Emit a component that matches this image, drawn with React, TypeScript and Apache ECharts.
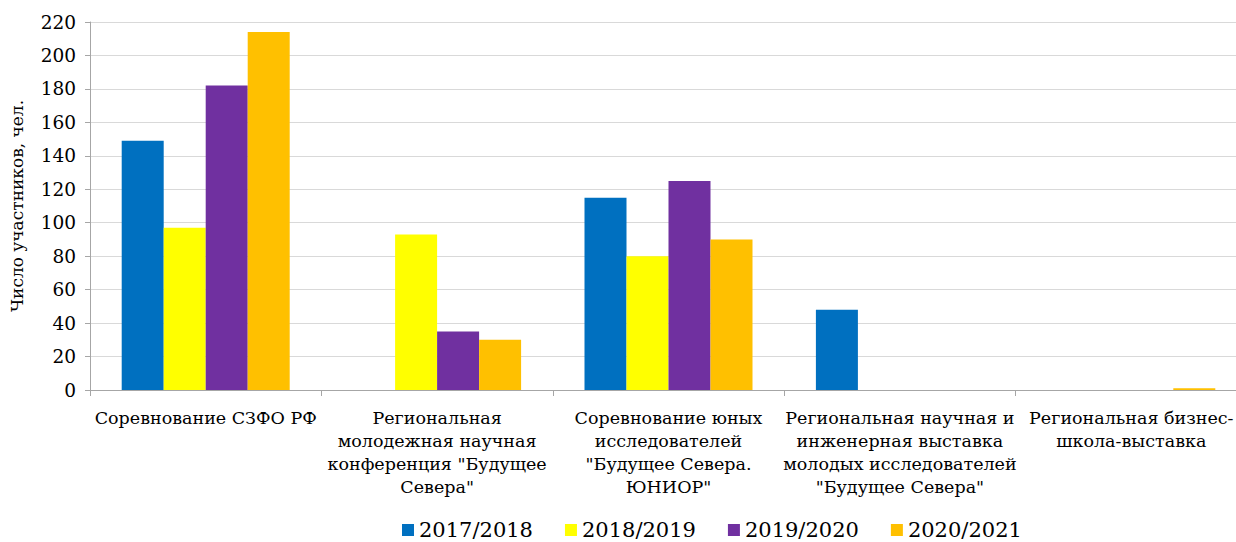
import React, { useEffect, useRef } from "react";
import * as echarts from "echarts";

const categories = [
  "Соревнование СЗФО РФ",
  "Региональная\nмолодежная научная\nконференция \"Будущее\nСевера\"",
  "Соревнование юных\nисследователей\n\"Будущее Севера.\nЮНИОР\"",
  "Региональная научная и\nинженерная выставка\nмолодых исследователей\n\"Будущее Севера\"",
  "Региональная бизнес-\nшкола-выставка",
];
const seriesNames = ["2017/2018", "2018/2019", "2019/2020", "2020/2021"];
const s2017 = [149, 0, 115, 48, 0];
const s2018 = [97, 93, 80, 0, 0];
const s2019 = [182, 35, 125, 0, 0];
const s2020 = [214, 30, 90, 0, 1];
const colors = ["#0070C0", "#FFFF00", "#7030A0", "#FFC000"];
const yTicks = { min: 0, max: 220, interval: 20 };

export default function App() {
  const ref = useRef<HTMLDivElement>(null);
  useEffect(() => {
    if (!ref.current) return;
    const chart = echarts.init(ref.current, null, { renderer: "svg" });
    const font = "DejaVu Serif";
    const data = [s2017, s2018, s2019, s2020];
    chart.setOption({
      animation: false,
      textStyle: { fontFamily: font },
      grid: {
        left: 90,
        width: 1157,
        top: 22,
        bottom: 152,
        containLabel: false,
        outerBoundsMode: "none",
      },
      legend: {
        left: 402,
        top: 519,
        padding: 0,
        itemWidth: 12,
        itemHeight: 12,
        itemGap: 32,
        icon: "rect",
        textStyle: { fontFamily: font, fontSize: 21, lineHeight: 22, color: "#000" },
        data: seriesNames,
      },
      xAxis: {
        type: "category",
        data: categories,
        axisLine: { lineStyle: { color: "#A6A6A6", width: 1 } },
        axisTick: { show: true, length: 6, lineStyle: { color: "#A6A6A6" } },
        axisLabel: {
          interval: 0,
          fontFamily: font,
          fontSize: 17.5,
          lineHeight: 23,
          color: "#000",
          margin: 16,
          align: "center",
        },
        splitLine: { show: false },
      },
      yAxis: {
        type: "value",
        min: yTicks.min,
        max: yTicks.max,
        interval: yTicks.interval,
        name: "Число участников, чел.",
        nameLocation: "middle",
        nameGap: 65,
        nameRotate: 90,
        nameTextStyle: { fontFamily: font, fontSize: 17, color: "#000" },
        axisLine: { show: true, lineStyle: { color: "#A6A6A6" } },
        axisTick: { show: true, length: 5, lineStyle: { color: "#A6A6A6" } },
        axisLabel: { fontFamily: font, fontSize: 18.5, color: "#000", margin: 14 },
        splitLine: { show: true, lineStyle: { color: "#D9D9D9", width: 1 } },
      },
      series: seriesNames.map((n, i) => ({
        name: n,
        type: "bar",
        data: data[i],
        barWidth: 42,
        barGap: "0%",
        itemStyle: { color: colors[i] },
      })),
    });
    return () => chart.dispose();
  }, []);
  return (
    <div
      ref={ref}
      style={{ position: "absolute", left: 0, top: 0, width: 1236, height: 542, background: "#fff" }}
    />
  );
}
